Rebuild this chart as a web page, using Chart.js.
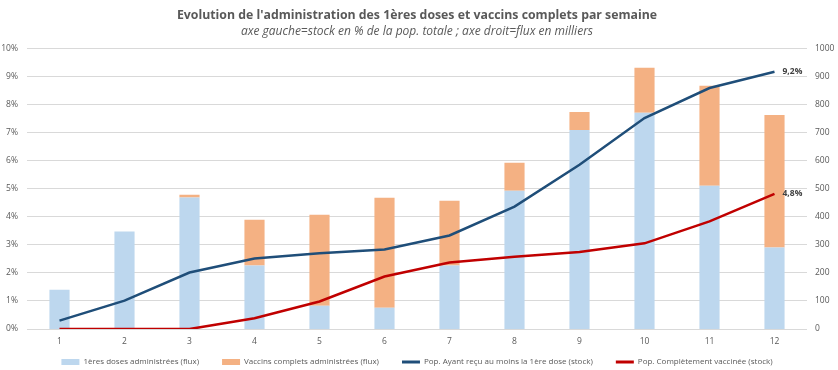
<!DOCTYPE html>
<html>
<head>
<meta charset="utf-8">
<title>Evolution de l'administration des 1ères doses et vaccins complets</title>
<script src="https://cdn.jsdelivr.net/npm/chart.js@4/dist/chart.umd.min.js"></script>
<style>
    body { margin: 0; background: #fff; }
    #wrap { width: 838px; height: 370px; position: relative; }
</style>
</head>
<body>
<div id="wrap"><canvas id="chart"></canvas></div>
<script>
// Weeks
const weeks = ['1', '2', '3', '4', '5', '6', '7', '8', '9', '10', '11', '12'];

// Flux (thousands) - right axis
const firstDoses = [140, 347, 468, 226, 83, 76, 226, 492, 709, 770, 510, 290];
const fullVaccines = [0, 0, 10, 163, 324, 391, 231, 100, 64, 160, 356, 472];

// Stock (% of total population) - left axis
const popFirstDose = [0.30, 1.01, 2.01, 2.51, 2.70, 2.83, 3.33, 4.36, 5.85, 7.51, 8.58, 9.16];
const popFullyVaccinated = [0, 0, 0, 0.38, 0.98, 1.87, 2.37, 2.57, 2.74, 3.05, 3.83, 4.81];

// Labels shown at the end of the stock lines
const endLabels = ['9,2%', '4,8%'];

const textColor = '#595959';
const fontFamily = "'Open Sans', 'Noto Sans', sans-serif";

// Draws the value label next to the last point of each line
const endLabelPlugin = {
    id: 'endLabels',
    afterDatasetsDraw(chart) {
        const ctx = chart.ctx;
        ctx.save();
        ctx.font = `bold 8.5px ${fontFamily}`;
        ctx.fillStyle = '#404040';
        ctx.textAlign = 'left';
        ctx.textBaseline = 'middle';
        [2, 3].forEach((dsIndex, i) => {
            const meta = chart.getDatasetMeta(dsIndex);
            const last = meta.data[meta.data.length - 1];
            if (last) ctx.fillText(endLabels[i], last.x + 8, last.y);
        });
        ctx.restore();
    }
};

// Keep the legend short but with wide gaps between items
const legendPlugin = {
    id: 'legendSize',
    beforeInit(chart) {
        const fit = chart.legend.fit;
        chart.legend.fit = function () {
            fit.call(this);
            this.height = 24;
        };
    },
    afterLayout(chart) {
        chart.legend.top = chart.height - 35;
    }
};

new Chart(document.getElementById('chart'), {
    type: 'bar',
    data: {
        labels: weeks,
        datasets: [
            {
                label: '1ères doses administrées (flux)',
                data: firstDoses,
                backgroundColor: '#BDD7EE',
                yAxisID: 'y1',
                order: 2,
                categoryPercentage: 1,
                barPercentage: 0.31
            },
            {
                label: 'Vaccins complets administrées (flux)',
                data: fullVaccines,
                backgroundColor: '#F4B183',
                yAxisID: 'y1',
                order: 2,
                categoryPercentage: 1,
                barPercentage: 0.31
            },
            {
                type: 'line',
                label: 'Pop. Ayant reçu au moins la 1ère dose (stock)',
                data: popFirstDose,
                borderColor: '#1F4E79',
                backgroundColor: '#1F4E79',
                borderWidth: 2.5,
                pointRadius: 0,
                tension: 0,
                yAxisID: 'y',
                order: 1
            },
            {
                type: 'line',
                label: 'Pop. Complètement vaccinée (stock)',
                data: popFullyVaccinated,
                borderColor: '#C00000',
                backgroundColor: '#C00000',
                borderWidth: 2.5,
                pointRadius: 0,
                tension: 0,
                yAxisID: 'y',
                order: 1
            }
        ]
    },
    options: {
        responsive: true,
        maintainAspectRatio: false,
        animation: false,
        layout: { padding: { left: 0, right: 4, bottom: 0 } },
        plugins: {
            title: {
                display: true,
                text: "Evolution de l'administration des 1ères doses et vaccins complets par semaine",
                color: textColor,
                font: { family: fontFamily, size: 12.3, weight: 'bold' },
                padding: { top: 8, bottom: 2 }
            },
            subtitle: {
                display: true,
                text: 'axe gauche=stock en % de la pop. totale ; axe droit=flux en milliers',
                color: textColor,
                font: { family: fontFamily, size: 12, style: 'italic' },
                padding: { bottom: 9 }
            },
            legend: {
                position: 'bottom',
                labels: {
                    color: textColor,
                    font: { family: fontFamily, size: 8 },
                    usePointStyle: true,
                    pointStyleWidth: 18,
                    boxHeight: 6,
                    padding: 23,
                    generateLabels(chart) {
                        return chart.data.datasets.map((ds, i) => ({
                            text: ds.label,
                            fillStyle: ds.backgroundColor,
                            strokeStyle: ds.type === 'line' ? ds.borderColor : ds.backgroundColor,
                            lineWidth: ds.type === 'line' ? 3 : 0,
                            pointStyle: ds.type === 'line' ? 'line' : 'rect',
                            fontColor: textColor,
                            hidden: !chart.isDatasetVisible(i),
                            datasetIndex: i
                        }));
                    }
                }
            },
            tooltip: { enabled: false }
        },
        scales: {
            x: {
                stacked: true,
                grid: { display: false, drawTicks: false },
                border: { display: false },
                ticks: { color: textColor, font: { family: fontFamily, size: 8.5 }, padding: 7 },
                afterFit: scale => { scale.height = 17; }
            },
            y: {
                position: 'left',
                min: 0,
                max: 10,
                grid: { color: '#D9D9D9', drawTicks: false },
                border: { display: false },
                ticks: {
                    stepSize: 1,
                    color: textColor,
                    font: { family: fontFamily, size: 8.5 },
                    padding: 9,
                    callback: v => v + '%'
                },
                afterFit: scale => { scale.width = 27; }
            },
            y1: {
                position: 'right',
                stacked: true,
                min: 0,
                max: 1000,
                grid: { display: false, drawTicks: false },
                border: { display: false },
                ticks: {
                    stepSize: 100,
                    color: textColor,
                    font: { family: fontFamily, size: 8.5 },
                    padding: 8,
                    callback: v => String(v)
                },
                afterFit: scale => { scale.width = 27; }
            }
        }
    },
    plugins: [endLabelPlugin, legendPlugin]
});
</script>
</body>
</html>
